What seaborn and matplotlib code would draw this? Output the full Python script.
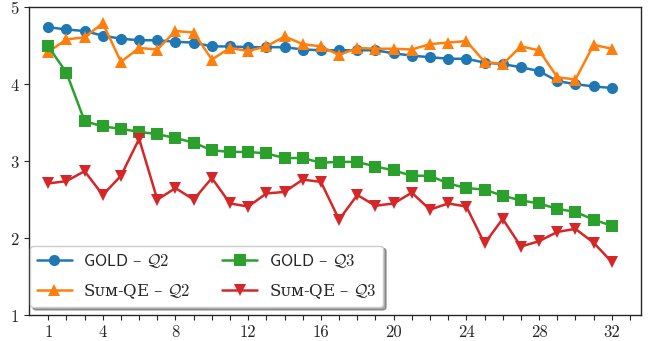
import numpy as np
import pandas as pd
import seaborn as sns
import matplotlib.pyplot as plt

# valeurs
x = list(range(1, 33))
gold_q2 = [4.74, 4.71, 4.69, 4.63, 4.59, 4.57, 4.57, 4.55, 4.54, 4.49, 4.49, 4.48, 4.48, 4.48, 4.45, 4.44,
           4.44, 4.44, 4.44, 4.40, 4.37, 4.35, 4.33, 4.33, 4.28, 4.26, 4.22, 4.17, 4.04, 4.00, 3.97, 3.95]
sumqe_q2 = [4.42, 4.58, 4.61, 4.79, 4.29, 4.47, 4.45, 4.69, 4.67, 4.32, 4.47, 4.43, 4.49, 4.62, 4.52, 4.49,
            4.38, 4.47, 4.46, 4.46, 4.45, 4.52, 4.54, 4.56, 4.29, 4.26, 4.49, 4.44, 4.09, 4.06, 4.51, 4.46]
gold_q3 = [4.49, 4.15, 3.52, 3.45, 3.42, 3.38, 3.35, 3.30, 3.24, 3.14, 3.12, 3.12, 3.10, 3.04, 3.04, 2.98,
           2.99, 2.99, 2.93, 2.88, 2.81, 2.81, 2.71, 2.65, 2.63, 2.55, 2.49, 2.45, 2.38, 2.34, 2.24, 2.16]
sumqe_q3 = [2.71, 2.74, 2.87, 2.56, 2.81, 3.29, 2.50, 2.65, 2.50, 2.78, 2.45, 2.41, 2.58, 2.60, 2.76, 2.73,
            2.24, 2.56, 2.42, 2.45, 2.59, 2.37, 2.45, 2.41, 1.93, 2.25, 1.89, 1.96, 2.08, 2.12, 1.94, 1.69]

labels = [r"$\mathsf{GOLD}$ – $\mathcal{Q}2$", r"Sᴜᴍ-QE – $\mathcal{Q}2$",
          r"$\mathsf{GOLD}$ – $\mathcal{Q}3$", r"Sᴜᴍ-QE – $\mathcal{Q}3$"]
series = [gold_q2, sumqe_q2, gold_q3, sumqe_q3]
markers = ["o", "^", "s", "v"]
couleurs = ["#1f77b4", "#ff7f0e", "#2ca02c", "#d62728"]

sns.set_style("ticks")
plt.rcParams['font.family'] = ['cmr10']
plt.rcParams['mathtext.fontset'] = 'cm'
plt.rcParams['axes.formatter.use_mathtext'] = True
plt.rcParams['axes.unicode_minus'] = False

fig = plt.figure(figsize=(6.48, 3.41), dpi=100)
ax = fig.add_axes([0.045, 0.076, 0.944, 0.903])

for vals, lab, m, c in zip(series, labels, markers, couleurs):
    sns.lineplot(x=x, y=vals, marker=m, color=c, label=lab, ax=ax,
                 linewidth=1.8, markersize=8, markeredgewidth=0)

ax.set_xlim(-0.05, 33.6)
ax.set_ylim(1, 5)
ticks_x = list(range(1, 34))
ax.set_xticks(ticks_x)
ax.set_xticklabels([str(t) if (t == 1 or t % 4 == 0) and t <= 32 else "" for t in ticks_x])
ax.set_yticks([1, 2, 3, 4, 5])
ax.tick_params(labelsize=12)
for s in ax.spines.values():
    s.set_linewidth(1.0)

leg = ax.legend(loc="lower left", bbox_to_anchor=(0.0, 0.023), ncol=2,
                shadow=True, fancybox=True, framealpha=1, borderaxespad=0.05,
                columnspacing=1.9, handlelength=2.1, handletextpad=0.7, labelspacing=0.7,
                prop={'family': 'DejaVu Serif', 'size': 12})

fig.savefig("out.png", dpi=100)
